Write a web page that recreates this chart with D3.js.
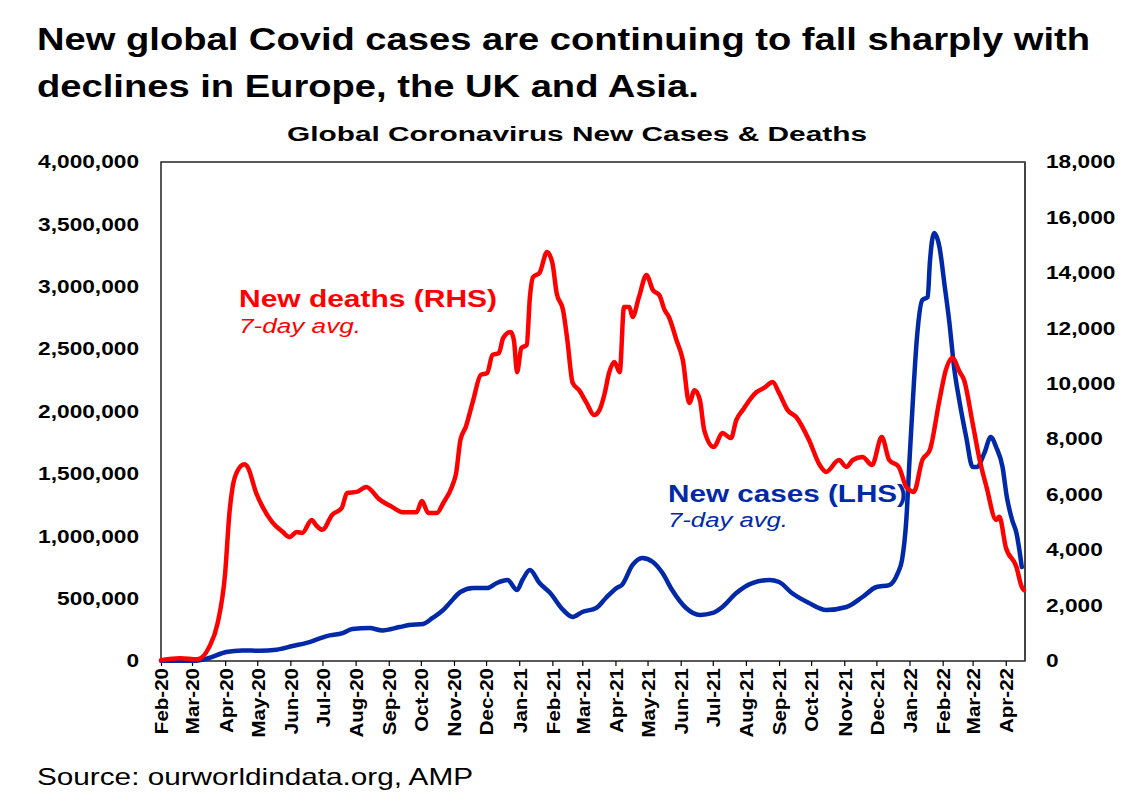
<!DOCTYPE html>
<html><head><meta charset="utf-8">
<script src="https://cdn.jsdelivr.net/npm/d3@7"></script>
<style>
html,body{margin:0;padding:0;background:#fff;}
text{font-family:"Liberation Sans",Arial,Helvetica,sans-serif;}
</style></head>
<body><svg id="chart" width="1143" height="809"></svg>
<script>
// ---------- DATA ----------
const deathsDates = ["2020-02-01","2020-02-19","2020-03-06","2020-03-17","2020-03-25","2020-04-01","2020-04-05","2020-04-08","2020-04-13","2020-04-19","2020-04-22","2020-04-30","2020-05-06","2020-05-15","2020-05-25","2020-05-31","2020-06-07","2020-06-12","2020-06-21","2020-06-25","2020-07-01","2020-07-10","2020-07-19","2020-07-24","2020-08-02","2020-08-11","2020-08-23","2020-09-04","2020-09-14","2020-09-27","2020-10-02","2020-10-08","2020-10-16","2020-10-22","2020-10-30","2020-11-03","2020-11-07","2020-11-12","2020-11-19","2020-11-26","2020-12-02","2020-12-07","2020-12-13","2020-12-17","2020-12-24","2020-12-27","2020-12-30","2021-01-03","2021-01-08","2021-01-11","2021-01-14","2021-01-20","2021-01-27","2021-02-01","2021-02-05","2021-02-11","2021-02-15","2021-02-20","2021-02-26","2021-03-05","2021-03-12","2021-03-17","2021-03-22","2021-03-26","2021-03-31","2021-04-05","2021-04-09","2021-04-14","2021-04-17","2021-04-23","2021-04-30","2021-05-06","2021-05-12","2021-05-17","2021-05-21","2021-05-28","2021-06-03","2021-06-09","2021-06-14","2021-06-19","2021-06-23","2021-07-02","2021-07-10","2021-07-18","2021-07-23","2021-07-29","2021-08-11","2021-08-18","2021-08-26","2021-09-01","2021-09-09","2021-09-17","2021-09-29","2021-10-09","2021-10-15","2021-10-27","2021-11-03","2021-11-09","2021-11-18","2021-11-27","2021-12-06","2021-12-13","2021-12-22","2021-12-29","2022-01-05","2022-01-13","2022-01-20","2022-01-29","2022-02-04","2022-02-10","2022-02-17","2022-02-21","2022-03-01","2022-03-07","2022-03-14","2022-03-23","2022-03-26","2022-04-01","2022-04-11","2022-04-16","2022-04-18"];
const deathsValues = [30,100,60,500,1370,3170,5340,6280,6890,7100,7000,6060,5560,5010,4650,4470,4650,4620,5090,4900,4730,5270,5520,6060,6100,6280,5840,5560,5370,5370,5770,5340,5340,5700,6280,6780,7970,8440,9410,10320,10390,11040,11110,11650,11870,11580,10420,11290,11400,13130,13850,14000,14750,14360,13270,12660,11580,10030,9770,9310,8870,9050,9670,10390,10790,10420,12770,12770,12410,13130,13920,13380,13200,12660,12410,11580,10860,9310,9770,9410,8330,7720,8220,8040,8690,9050,9700,9850,10060,9670,9050,8800,7970,7070,6820,7250,7000,7250,7360,7070,8080,7250,7000,6280,6100,7250,7610,9410,10500,10930,10420,10140,8580,7360,6280,5090,5200,4110,3390,2670,2560];

const casesDates = ["2020-02-01","2020-03-05","2020-03-17","2020-04-02","2020-04-17","2020-05-03","2020-05-19","2020-06-03","2020-06-19","2020-07-05","2020-07-20","2020-07-29","2020-08-14","2020-08-26","2020-09-11","2020-09-20","2020-10-03","2020-10-12","2020-10-22","2020-10-28","2020-11-07","2020-11-19","2020-12-02","2020-12-11","2020-12-21","2020-12-30","2021-01-04","2021-01-11","2021-01-20","2021-01-30","2021-02-11","2021-02-20","2021-03-01","2021-03-14","2021-03-23","2021-04-02","2021-04-07","2021-04-17","2021-04-26","2021-05-06","2021-05-15","2021-05-24","2021-06-06","2021-06-19","2021-07-01","2021-07-10","2021-07-23","2021-08-07","2021-08-23","2021-09-01","2021-09-13","2021-09-29","2021-10-15","2021-11-03","2021-11-18","2021-12-01","2021-12-13","2021-12-21","2021-12-25","2021-12-29","2022-01-01","2022-01-04","2022-01-08","2022-01-13","2022-01-18","2022-01-20","2022-01-24","2022-01-29","2022-02-03","2022-02-07","2022-02-12","2022-02-17","2022-02-23","2022-03-01","2022-03-05","2022-03-12","2022-03-18","2022-03-23","2022-03-29","2022-04-02","2022-04-07","2022-04-11","2022-04-16"];
const casesValues = [2000,3000,24000,72000,85000,82000,90000,120000,152000,200000,224000,256000,264000,245000,272000,288000,297000,345000,409000,465000,553000,585000,585000,625000,649000,569000,649000,729000,625000,545000,409000,353000,393000,425000,505000,585000,609000,770000,826000,794000,705000,569000,425000,369000,385000,433000,545000,625000,649000,633000,545000,465000,409000,433000,513000,593000,609000,705000,810000,1130000,1611000,2068000,2597000,2894000,2918000,3190000,3431000,3319000,2998000,2733000,2333000,2068000,1796000,1555000,1555000,1667000,1796000,1715000,1555000,1315000,1130000,1026000,754000];

const leftTicks = [0,500000,1000000,1500000,2000000,2500000,3000000,3500000,4000000];
const rightTicks = [0,2000,4000,6000,8000,10000,12000,14000,16000,18000];
const titleLines = ["New global Covid cases are continuing to fall sharply with","declines in Europe, the UK and Asia."];
const subtitle = "Global Coronavirus New Cases & Deaths";
const deathsLabel = ["New deaths (RHS)","7-day avg."];
const casesLabel = ["New cases (LHS)","7-day avg."];
const sourceText = "Source: ourworldindata.org, AMP";

// ---------- SETUP ----------
const parse = d3.timeParse("%Y-%m-%d");
const deaths = deathsDates.map((d,i)=>({date:parse(d), v:deathsValues[i]}));
const cases = casesDates.map((d,i)=>({date:parse(d), v:casesValues[i]}));

const L=161, R=1025, T=162, B=661;
const RED="#FF0000", BLUE="#0029A8";

const svg = d3.select("#chart");
svg.append("rect").attr("width",1143).attr("height",809).attr("fill","#fff");

function stretch(sel,k){
  sel.each(function(){
    const w=this.getComputedTextLength();
    d3.select(this).attr("textLength",w*k).attr("lengthAdjust","spacingAndGlyphs");
  });
}

const x = d3.scaleTime().domain([parse("2020-02-01"), parse("2022-04-19")]).range([L,R]);
const yL = d3.scaleLinear().domain([0,4000000]).range([B,T]);
const yR = d3.scaleLinear().domain([0,18000]).range([B,T]);

// ---------- TITLES ----------
svg.append("text").attr("x",37).attr("y",50).attr("font-size",31).attr("font-weight","bold")
  .attr("textLength",1053).attr("lengthAdjust","spacingAndGlyphs").text(titleLines[0]);
const t2 = svg.append("text").attr("x",37).attr("y",97).attr("font-size",31).attr("font-weight","bold").text(titleLines[1]);
stretch(t2,1.23);
svg.append("text").attr("x",577).attr("y",141).attr("text-anchor","middle").attr("font-size",20).attr("font-weight","bold")
  .attr("textLength",580).attr("lengthAdjust","spacingAndGlyphs").text(subtitle);

// ---------- AXES ----------
const fmt = d3.format(",");
const gL = svg.append("g").attr("transform",`translate(${L},0)`)
  .call(d3.axisLeft(yL).tickValues(leftTicks).tickFormat(fmt).tickSize(0).tickPadding(22));
gL.select(".domain").remove();
gL.selectAll("text").attr("font-size",18).attr("font-weight","bold").attr("fill","#000")
  .attr("font-family","'Liberation Sans',Arial,sans-serif").call(stretch,1.26);

const gR = svg.append("g").attr("transform",`translate(${R},0)`)
  .call(d3.axisRight(yR).tickValues(rightTicks).tickFormat(fmt).tickSize(0).tickPadding(21));
gR.select(".domain").remove();
gR.selectAll("text").attr("font-size",18).attr("font-weight","bold").attr("fill","#000")
  .attr("font-family","'Liberation Sans',Arial,sans-serif").call(stretch,1.26);

const gX = svg.append("g").attr("transform",`translate(0,${B})`)
  .call(d3.axisBottom(x).ticks(d3.timeMonth.every(1)).tickFormat(d3.timeFormat("%b-%y")).tickSize(5).tickPadding(3));
gX.select(".domain").remove();
gX.selectAll(".tick line").attr("stroke","#000").attr("stroke-width",1.2);
gX.selectAll("text").attr("font-size",19).attr("font-weight","bold").attr("fill","#000")
  .attr("font-family","'Liberation Sans',Arial,sans-serif")
  .attr("transform","rotate(-90)").attr("text-anchor","end")
  .attr("x",-7).attr("y",0).attr("dy","0.36em")
  .call(stretch,1.08);

// ---------- FRAME ----------
svg.append("rect").attr("x",L).attr("y",T).attr("width",R-L).attr("height",B-T)
  .attr("fill","none").attr("stroke","#000").attr("stroke-width",1.3);
svg.append("line").attr("x1",R).attr("x2",R).attr("y1",T).attr("y2",B).attr("stroke","#444").attr("stroke-width",2);

// ---------- LINES ----------
const lineL = d3.line().x(d=>x(d.date)).y(d=>yL(d.v)).curve(d3.curveMonotoneX);
const lineR = d3.line().x(d=>x(d.date)).y(d=>yR(d.v)).curve(d3.curveMonotoneX);
svg.append("path").datum(cases).attr("d",lineL).attr("fill","none").attr("stroke",BLUE)
  .attr("stroke-width",4.5).attr("stroke-linejoin","round").attr("stroke-linecap","round");
svg.append("path").datum(deaths).attr("d",lineR).attr("fill","none").attr("stroke",RED)
  .attr("stroke-width",4.5).attr("stroke-linejoin","round").attr("stroke-linecap","round");

// ---------- LABELS ----------
svg.append("text").attr("x",239).attr("y",307).attr("font-size",23).attr("font-weight","bold").attr("fill",RED)
  .attr("textLength",258).attr("lengthAdjust","spacingAndGlyphs").text(deathsLabel[0]);
svg.append("text").attr("x",239).attr("y",333).attr("font-size",20).attr("font-style","italic").attr("fill",RED)
  .attr("textLength",122).attr("lengthAdjust","spacingAndGlyphs").text(deathsLabel[1]);
svg.append("text").attr("x",668).attr("y",502).attr("font-size",23).attr("font-weight","bold").attr("fill",BLUE)
  .attr("textLength",239).attr("lengthAdjust","spacingAndGlyphs").text(casesLabel[0]);
svg.append("text").attr("x",668).attr("y",527).attr("font-size",20).attr("font-style","italic").attr("fill",BLUE)
  .attr("textLength",120).attr("lengthAdjust","spacingAndGlyphs").text(casesLabel[1]);

// ---------- SOURCE ----------
svg.append("text").attr("x",37).attr("y",785).attr("font-size",24).attr("fill","#000")
  .attr("textLength",436).attr("lengthAdjust","spacingAndGlyphs").text(sourceText);
</script></body></html>
